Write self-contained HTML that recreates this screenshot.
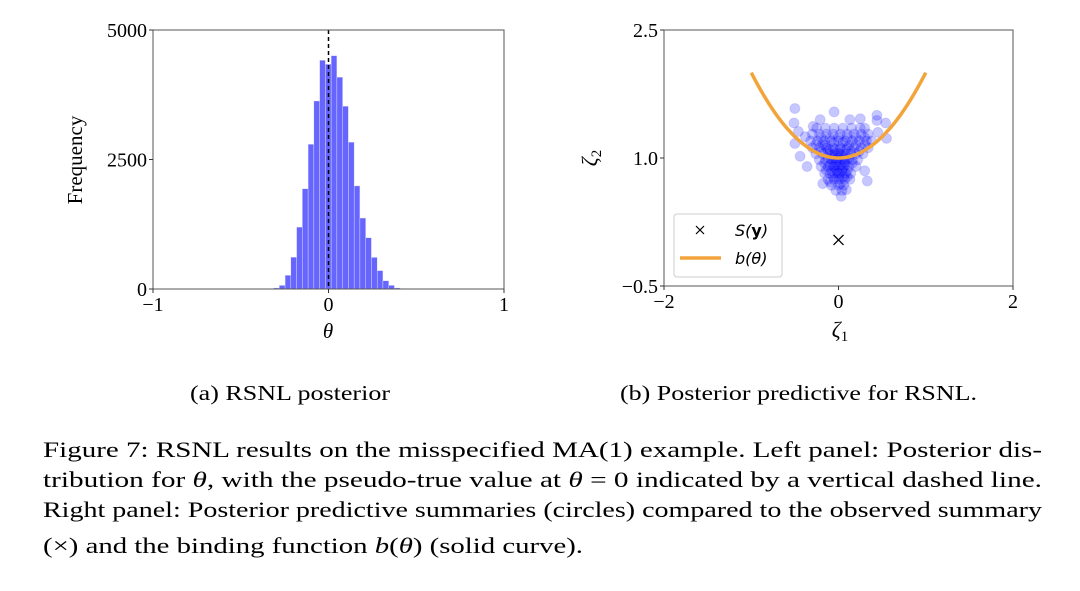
<!DOCTYPE html>
<html><head><meta charset="utf-8"><style>
html,body{margin:0;padding:0;background:#fff;width:1080px;height:591px;overflow:hidden}
svg{display:block}
text{font-family:"Liberation Serif","DejaVu Serif",serif;fill:#000}
.sans{font-family:"DejaVu Sans","Liberation Sans",sans-serif}
</style></head><body>
<svg id="fig" width="1080" height="591" viewBox="0 0 1080 591" xmlns="http://www.w3.org/2000/svg">
<g id="histPanel"></g>
<g id="scatPanel"></g>
<text x="190" y="400" font-size="21" textLength="200" lengthAdjust="spacingAndGlyphs">(a) RSNL posterior</text>
<text x="620" y="400" font-size="21" textLength="357" lengthAdjust="spacingAndGlyphs">(b) Posterior predictive for RSNL.</text>
<g font-size="22">
<text x="43" y="457" textLength="999" lengthAdjust="spacingAndGlyphs">Figure 7: RSNL results on the misspecified MA(1) example. Left panel: Posterior dis-</text>
<text x="43" y="487" textLength="999" lengthAdjust="spacingAndGlyphs">tribution for <tspan font-style="italic">θ</tspan>, with the pseudo-true value at <tspan font-style="italic">θ</tspan> = 0 indicated by a vertical dashed line.</text>
<text x="43" y="517" textLength="999" lengthAdjust="spacingAndGlyphs">Right panel: Posterior predictive summaries (circles) compared to the observed summary</text>
<text x="43" y="553" textLength="540" lengthAdjust="spacingAndGlyphs">(×) and the binding function <tspan font-style="italic">b</tspan>(<tspan font-style="italic">θ</tspan>) (solid curve).</text>
</g>
</svg>
<script>
// ---- histogram data ----
const binStart = -0.313;
const binWidth = 0.0328;
const counts = [20,70,265,615,1195,1935,2795,3630,4415,4340,4505,4090,3530,2835,1990,1370,990,610,355,160,70,20,8];
const histXTicks = [-1,0,1];
const histXTickLabels = ["−1","0","1"];
const histYTicks = [0,2500,5000];
const histYTickLabels = ["0","2500","5000"];
const trueValue = 0;

// ---- scatter data ----
const scatterPoints = [
[-0.50,1.58],[-0.05,1.54],[-0.51,1.41],[0.44,1.50],[0.25,1.46],[-0.21,1.45],[0.54,1.41],[-0.44,1.02],[-0.50,1.17],[0.33,0.73],[-0.18,0.70],[0.03,0.55],[0.09,0.63],[0.55,1.23],[0.44,1.44],[-0.46,1.31],[-0.29,1.37],[0.13,1.45],[-0.38,1.25],[0.45,1.3],[-0.36,0.9],[0.3,0.85],
[-0.25,1.35],[-0.15,1.35],[-0.05,1.35],[0.05,1.35],[0.15,1.35],[0.25,1.35],[0.3,1.35],
[-0.3,1.28],[-0.22,1.28],[-0.14,1.28],[-0.06,1.28],[0.02,1.28],[0.1,1.28],[0.18,1.28],[0.26,1.28],[0.34,1.28],
[-0.32,1.2],[-0.24,1.2],[-0.16,1.2],[-0.08,1.2],[0,1.2],[0.08,1.2],[0.16,1.2],[0.24,1.2],[0.32,1.2],[0.38,1.2],
[-0.3,1.12],[-0.22,1.12],[-0.14,1.12],[-0.06,1.12],[0.02,1.12],[0.1,1.12],[0.18,1.12],[0.26,1.12],[0.34,1.12],
[-0.26,1.05],[-0.18,1.05],[-0.1,1.05],[-0.04,1.05],[0.02,1.05],[0.08,1.05],[0.14,1.05],[0.2,1.05],[0.28,1.05],
[-0.22,0.98],[-0.15,0.98],[-0.08,0.98],[-0.02,0.98],[0.04,0.98],[0.1,0.98],[0.16,0.98],[0.22,0.98],
[-0.2,0.9],[-0.12,0.9],[-0.06,0.9],[0,0.9],[0.06,0.9],[0.12,0.9],[0.2,0.9],
[-0.16,0.82],[-0.1,0.82],[-0.04,0.82],[0.02,0.82],[0.08,0.82],[0.14,0.82],
[-0.12,0.75],[-0.05,0.75],[0.01,0.75],[0.07,0.75],[0.13,0.75],
[-0.08,0.68],[0,0.68],[0.06,0.68],[-0.03,0.62],[0.04,0.62],
[-0.1,1.1],[-0.04,1.1],[0.02,1.1],[0.08,1.1],[-0.12,1.0],[-0.06,1.0],[0,1.0],[0.06,1.0],[0.12,1.0],
[-0.1,0.92],[-0.04,0.92],[0.02,0.92],[0.08,0.92],[-0.08,0.85],[-0.02,0.85],[0.04,0.85],[0.1,0.85],
[-0.06,0.78],[0,0.78],[0.06,0.78],[-0.05,1.18],[0.05,1.18],[0.12,1.15],[-0.15,1.15],
[-0.2,1.24],[-0.1,1.24],[0,1.24],[0.1,1.24],[0.2,1.24],[0.3,1.24],[-0.26,1.16],[-0.18,1.16],[0.2,1.16],[0.3,1.16],
[-0.2,1.08],[-0.12,1.08],[0.14,1.08],[0.24,1.08],[-0.16,0.94],[0.16,0.94],[-0.14,0.86],[0.1,0.78],[-0.1,0.72],[0.02,0.7],
[-0.03,0.95],[0.03,1.03],[-0.07,1.03],[0.05,0.88],[-0.01,0.82],[0.0,1.06],[0.07,0.95],[-0.05,0.9]
];
const observed = [0, 0.04];
const curveThetaMin = -1, curveThetaMax = 1;
const scatXTicks = [-2,0,2];
const scatXTickLabels = ["−2","0","2"];
const scatYTicks = [-0.5,1.0,2.5];
const scatYTickLabels = ["−0.5","1.0","2.5"];

const NS = "http://www.w3.org/2000/svg";
function mk(tag, attrs, parent){const e=document.createElementNS(NS,tag);for(const k in attrs)e.setAttribute(k,attrs[k]);parent.appendChild(e);return e;}

// ---- histogram ----
const H = document.getElementById('histPanel');
const hx0=153,hx1=504,hy0=289,hy1=30;
const hX = v => hx0 + (v+1)/2*(hx1-hx0);
const hY = v => hy0 - v/5000*(hy0-hy1);
counts.forEach((c,i)=>{
  const a=binStart+i*binWidth;
  const r=mk('rect',{x:hX(a),y:hY(c),width:hX(a+binWidth)-hX(a),height:hY(0)-hY(c),fill:'#6666ff',stroke:'#e6e6ff','stroke-width':0.4},H);
  
  
});
const dl=mk('line',{x1:hX(trueValue),x2:hX(trueValue),y1:hy1,y2:hy0,stroke:'#000','stroke-width':1.5,'stroke-dasharray':'4,3'},H);


const hf=mk('rect',{x:hx0,y:hy1,width:hx1-hx0,height:hy0-hy1,fill:'none',stroke:'#555','stroke-width':1},H);


histXTicks.forEach((t,i)=>{
  mk('line',{x1:hX(t),x2:hX(t),y1:hy0,y2:hy0+4,stroke:'#333'},H);
  const tx=mk('text',{x:hX(t),y:hy0+22,'font-size':20,'text-anchor':'middle'},H);tx.textContent=histXTickLabels[i];
  
  
});
histYTicks.forEach((t,i)=>{
  mk('line',{x1:hx0-4,x2:hx0,y1:hY(t),y2:hY(t),stroke:'#333'},H);
  const tx=mk('text',{x:hx0-6,y:hY(t)+7,'font-size':20,'text-anchor':'end'},H);tx.textContent=histYTickLabels[i];
  
  
});
let t=mk('text',{x:328,y:338,'font-size':21,'text-anchor':'middle','font-style':'italic'},H);t.textContent='θ';


t=mk('text',{x:0,y:0,'font-size':21,'text-anchor':'middle',transform:'translate(82,160) rotate(-90)'},H);t.textContent='Frequency';



// ---- scatter ----
const S=document.getElementById('scatPanel');
const sx0=664,sx1=1013,sy0=286,sy1=30;
const sX=v=>sx0+(v+2)/4*(sx1-sx0);
const sY=v=>sy0-(v+0.5)/3*(sy0-sy1);
scatterPoints.forEach(p=>{
  const c=mk('circle',{cx:sX(p[0]),cy:sY(p[1]),r:5,fill:'#0000ff','fill-opacity':0.22,stroke:'#0000ff','stroke-opacity':0.12},S);
  
  
});
let d='';
for(let i=0;i<=60;i++){const th=curveThetaMin+(curveThetaMax-curveThetaMin)*i/60;d+=(i?'L':'M')+sX(th).toFixed(1)+','+sY(1+th*th).toFixed(1);}
const cv=mk('path',{d:d,fill:'none',stroke:'#f2a43a','stroke-width':3.5},S);


const ox=sX(observed[0]),oy=sY(observed[1]);
const om=mk('path',{d:`M${ox-5},${oy-5}L${ox+5},${oy+5}M${ox-5},${oy+5}L${ox+5},${oy-5}`,stroke:'#000','stroke-width':1.3},S);


const sf=mk('rect',{x:sx0,y:sy1,width:sx1-sx0,height:sy0-sy1,fill:'none',stroke:'#555','stroke-width':1},S);


scatXTicks.forEach((v,i)=>{
  mk('line',{x1:sX(v),x2:sX(v),y1:sy0,y2:sy0+4,stroke:'#333'},S);
  const tx=mk('text',{x:sX(v),y:sy0+22,'font-size':20,'text-anchor':'middle'},S);tx.textContent=scatXTickLabels[i];
  
  
});
scatYTicks.forEach((v,i)=>{
  mk('line',{x1:sx0-4,x2:sx0,y1:sY(v),y2:sY(v),stroke:'#333'},S);
  const tx=mk('text',{x:sx0-6,y:sY(v)+7,'font-size':20,'text-anchor':'end'},S);tx.textContent=scatYTickLabels[i];
  
  
});
t=mk('text',{x:840,y:337,'font-size':22,'text-anchor':'middle','font-style':'italic'},S);t.innerHTML='ζ<tspan font-style="normal" font-size="15" dy="4">1</tspan>';


t=mk('text',{x:0,y:0,'font-size':22,'text-anchor':'middle','font-style':'italic',transform:'translate(597,158) rotate(-90)'},S);t.innerHTML='ζ<tspan font-style="normal" font-size="15" dy="4">2</tspan>';


// legend
const L=mk('g',{},S);


mk('rect',{x:674,y:214,width:108,height:63,rx:3,fill:'#fff','fill-opacity':0.85,stroke:'#ccc'},L);
mk('path',{d:'M696,226L704,234M696,234L704,226',stroke:'#000','stroke-width':1.2},L);
t=mk('text',{x:735,y:236,'font-size':16,'font-style':'italic',class:'sans'},L);t.innerHTML='S(<tspan font-weight="bold" font-style="normal">y</tspan>)';


mk('line',{x1:680,x2:721,y1:258,y2:258,stroke:'#f2a43a','stroke-width':3.5},L);
t=mk('text',{x:735,y:264,'font-size':16,'font-style':'italic',class:'sans'},L);t.textContent='b(θ)';


</script>
</body></html>
